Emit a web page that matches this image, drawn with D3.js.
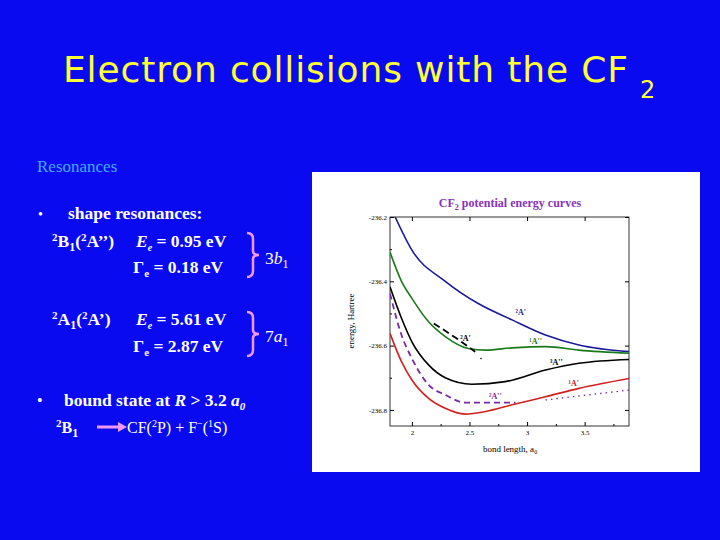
<!DOCTYPE html>
<html><head><meta charset="utf-8">
<script src="https://d3js.org/d3.v7.min.js"></script>
<style>body{margin:0;background:#0a0af0;}svg{display:block}</style>
</head><body><svg id="s" width="720" height="540"></svg>
<script>
const xTicks=[2,2.5,3,3.5];
const yTicks=[-236.2,-236.4,-236.6,-236.8];
const blue2A1=[[1.855,-236.2],[2.0,-236.303],[2.29,-236.40],[2.58,-236.47],[2.87,-236.52],[3.16,-236.567],[3.45,-236.598],[3.89,-236.619]];
const green1A2=[[1.81,-236.309],[1.91,-236.40],[2.0,-236.453],[2.145,-236.526],[2.29,-236.572],[2.49,-236.609],[2.64,-236.614],[2.87,-236.607],[3.16,-236.603],[3.45,-236.614],[3.89,-236.624]];
const black3A2=[[1.81,-236.417],[1.91,-236.515],[2.0,-236.588],[2.145,-236.66],[2.29,-236.70],[2.52,-236.72],[2.81,-236.712],[3.16,-236.676],[3.45,-236.655],[3.89,-236.643]];
const red1A1=[[1.81,-236.562],[1.91,-236.65],[2.0,-236.707],[2.145,-236.764],[2.29,-236.795],[2.46,-236.813],[2.64,-236.805],[2.87,-236.784],[3.16,-236.759],[3.45,-236.733],[3.89,-236.702]];
const purple2A2=[[1.81,-236.438],[1.91,-236.567],[2.0,-236.64],[2.145,-236.722],[2.29,-236.753],[2.46,-236.777],[2.9,-236.777]];
const purpleBound=[[3.16,-236.769],[3.89,-236.738]];
const black2A1=[[2.19,-236.531],[2.41,-236.583],[2.55,-236.619]];
const curveLabels=[["²A'",2.9,-236.505,"#1a1a9a"],["²A'",2.42,-236.585,"#000"],["¹A''",3.02,-236.595,"#1a7a1a"],["³A''",3.2,-236.66,"#000"],["¹A'",3.36,-236.725,"#c02020"],["²A''",2.67,-236.765,"#7a2aa0"]];

const svg=d3.select("#s");
svg.append("text").attr("x",63).attr("y",82).attr("textLength",565).attr("lengthAdjust","spacing").attr("fill","#ffff33")
 .style("font-family","DejaVu Sans").style("font-size","36px").text("Electron collisions with the CF");
svg.append("text").attr("x",640).attr("y",98).attr("fill","#ffff33").style("font-family","DejaVu Sans").style("font-size","24px").text("2");

const serif="Liberation Serif";
function t(x,y,html,opt={}){const e=svg.append("text").attr("x",x).attr("y",y).attr("fill",opt.fill||"#fff")
 .style("font-family",serif).style("font-size",(opt.size||17.5)+"px").style("font-weight",opt.bold===false?"normal":"bold").html(html);return e;}
t(37,172,"Resonances",{fill:"#44aaff",bold:false,size:17});
t(38,219,"•",{size:14,bold:false});
t(68,219,"shape resonances:");
t(52,247,'<tspan font-size="11" dy="-6">2</tspan><tspan dy="6">B</tspan><tspan font-size="12" dy="4">1</tspan><tspan dy="-4">(</tspan><tspan font-size="11" dy="-6">2</tspan><tspan dy="6">A’’)</tspan>');
t(136,247,'<tspan font-style="italic">E</tspan><tspan font-size="10" font-style="italic" dy="4">e</tspan><tspan dy="-4"> = 0.95 eV</tspan>');
t(133,273,'Γ<tspan font-size="11" dy="4">e</tspan><tspan dy="-4"> = 0.18 eV</tspan>');
t(52,325,'<tspan font-size="11" dy="-6">2</tspan><tspan dy="6">A</tspan><tspan font-size="12" dy="4">1</tspan><tspan dy="-4">(</tspan><tspan font-size="11" dy="-6">2</tspan><tspan dy="6">A’)</tspan>');
t(136,325,'<tspan font-style="italic">E</tspan><tspan font-size="10" font-style="italic" dy="4">e</tspan><tspan dy="-4"> = 5.61 eV</tspan>');
t(133,352,'Γ<tspan font-size="11" dy="4">e</tspan><tspan dy="-4"> = 2.87 eV</tspan>');
function brace(x,y0,y1){const m=(y0+y1)/2;svg.append("path").attr("d",`M${x},${y0} Q${x+6},${y0} ${x+6},${y0+6} L${x+6},${m-4} Q${x+6},${m} ${x+12},${m} Q${x+6},${m} ${x+6},${m+4} L${x+6},${y1-6} Q${x+6},${y1} ${x},${y1}`)
 .attr("fill","none").attr("stroke","#ee99ee").attr("stroke-width",2.5);}
brace(247,233,277);brace(247,312,356);
t(265,264,'3<tspan font-style="italic">b</tspan><tspan font-size="12" dy="4">1</tspan>',{bold:false});
t(265,342,'7<tspan font-style="italic">a</tspan><tspan font-size="12" dy="4">1</tspan>',{bold:false});
t(37,406,"•",{size:16,bold:false});
t(64,406,'bound state at <tspan font-style="italic">R</tspan> &gt; 3.2 <tspan font-style="italic">a</tspan><tspan font-size="11" font-style="italic" dy="4">0</tspan>');
t(56,433,'<tspan font-size="11" dy="-6">2</tspan><tspan dy="6">B</tspan><tspan font-size="12" dy="4">1</tspan>',{size:16});
svg.append("line").attr("x1",97).attr("x2",120).attr("y1",427).attr("y2",427).attr("stroke","#ee99ee").attr("stroke-width",3);
svg.append("path").attr("d","M118,422 L127,427 L118,432Z").attr("fill","#ee99ee");
t(127,433,'CF(<tspan font-size="10" dy="-6">2</tspan><tspan dy="6">P) + F</tspan><tspan font-size="10" dy="-6">−</tspan><tspan dy="6">(</tspan><tspan font-size="10" dy="-6">1</tspan><tspan dy="6">S)</tspan>',{size:16,bold:false});

svg.append("rect").attr("x",312).attr("y",172).attr("width",388).attr("height",300).attr("fill","#fff");
const x=d3.scaleLinear().domain([1.81,3.885]).range([390,629]);
const y=d3.scaleLinear().domain([-236.2,-236.85]).range([217,426]);
const g=svg.append("g");
g.append("text").attr("x",510).attr("y",207).attr("text-anchor","middle").attr("fill","#8833bb").style("font-family",serif).style("font-weight","bold").style("font-size","12px")
 .html('CF<tspan font-size="8" dy="3">2</tspan><tspan dy="-3">  potential energy curves</tspan>');
g.append("rect").attr("x",390).attr("y",217).attr("width",239).attr("height",209).attr("fill","none").attr("stroke","#000").attr("stroke-width",0.8);
const ax=g.append("g").attr("transform","translate(0,426)").call(d3.axisBottom(x).tickValues(xTicks).tickSize(-4).tickFormat(d3.format("")));
const ay=g.append("g").attr("transform","translate(390,0)").call(d3.axisLeft(y).tickValues(yTicks).tickSize(-4).tickFormat(d=>d.toFixed(1)));
g.append("g").attr("transform","translate(0,426)").call(d3.axisBottom(x).tickValues([2.25,2.75,3.25,3.75]).tickSize(-2).tickFormat(""));
g.append("g").attr("transform","translate(390,0)").call(d3.axisLeft(y).tickValues([-236.3,-236.5,-236.7]).tickSize(-2).tickFormat(""));
g.append("g").attr("transform","translate(0,217)").call(d3.axisTop(x).tickValues(xTicks).tickSize(-4).tickFormat(""));
g.append("g").attr("transform","translate(629,0)").call(d3.axisRight(y).tickValues(yTicks).tickSize(-4).tickFormat(""));
g.selectAll(".domain").remove();
g.selectAll(".tick text").style("font-family",serif).style("font-size","7px");
ax.selectAll(".tick text").attr("dy","0.9em");
g.append("text").attr("x",510).attr("y",452).attr("text-anchor","middle").style("font-family",serif).style("font-size","9px").html('bond length, a<tspan font-size="6" dy="2">0</tspan>');
g.append("text").attr("transform","translate(354,321) rotate(-90)").attr("text-anchor","middle").style("font-family",serif).style("font-size","9px").text("energy, Hartree");
svg.append("clipPath").attr("id","c").append("rect").attr("x",390).attr("y",217).attr("width",239).attr("height",209);
const line=d3.line().x(d=>x(d[0])).y(d=>y(d[1])).curve(d3.curveMonotoneX);
const P=g.append("g").attr("clip-path","url(#c)");
function dr(data,col,w,dash){P.append("path").attr("d",line(data)).attr("fill","none").attr("stroke",col).attr("stroke-width",w).attr("stroke-dasharray",dash||null);}
dr(blue2A1,"#1a1a9a",1.6);dr(green1A2,"#1a7a1a",1.6);dr(black3A2,"#000",1.6);dr(red1A1,"#d02020",1.6);
dr(purple2A2,"#7a2aa0",1.8,"6,4");dr(purpleBound,"#7a2aa0",1.3,"1.5,4");dr(black2A1,"#000",1.8,"7,4");
P.append("circle").attr("cx",x(2.6)).attr("cy",y(-236.64)).attr("r",0.8);
curveLabels.forEach(([s,a,b,c])=>g.append("text").attr("x",x(a)).attr("y",y(b)).attr("fill",c).style("font-family",serif).style("font-weight","bold").style("font-size","8px").text(s));
</script></body></html>
